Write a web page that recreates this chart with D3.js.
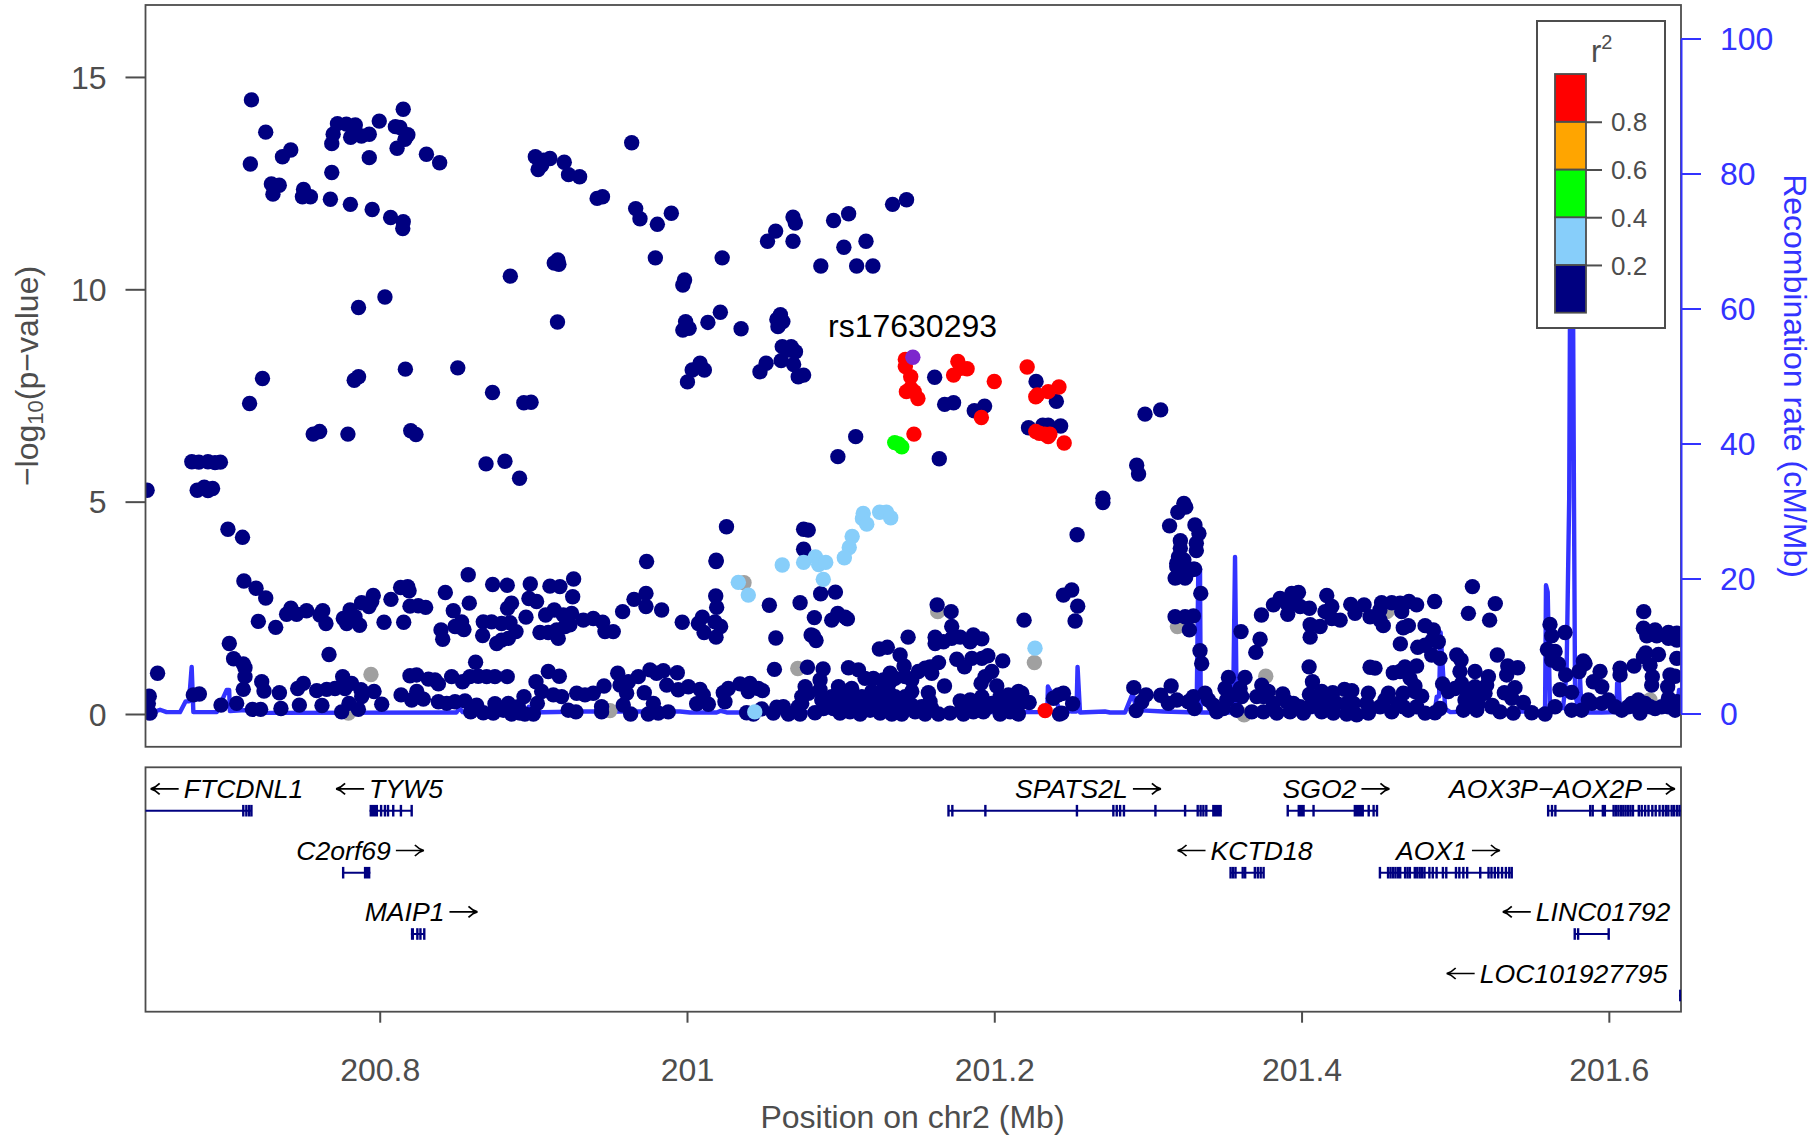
<!DOCTYPE html>
<html><head><meta charset="utf-8">
<script src="https://cdnjs.cloudflare.com/ajax/libs/d3/7.8.5/d3.min.js"></script>
<style>html,body{margin:0;padding:0;background:#fff}svg{display:block}text{font-family:"Liberation Sans",Arial,sans-serif}</style>
</head><body><svg id="c" width="1816" height="1135"></svg>
<script>
const navySnps=[
[200.7165,14.46],[200.7258,13.7],[200.7421,13.28],[200.7367,13.12],[200.7158,12.95],[200.7295,12.48],[200.7346,12.45],[200.7305,12.24],[200.7504,12.35],[200.7549,12.18],[200.7497,12.18],[200.7679,12.12],[200.7809,12.0],[200.7951,11.88],[200.8071,11.69],[200.8153,11.59],[200.815,11.43],[200.7688,12.75],[200.7932,13.1],[200.7688,13.43],[200.7697,13.65],[200.7725,13.9],[200.7783,13.89],[200.7841,13.87],[200.7811,13.58],[200.7881,13.61],[200.7932,13.65],[200.7997,13.96],[200.8153,14.24],[200.8102,13.83],[200.8132,13.81],[200.8183,13.64],[200.8164,13.53],[200.8113,13.32],[200.8304,13.18],[200.839,12.98],
[200.9013,13.12],[200.9066,13.04],[200.9108,13.08],[200.9031,12.82],[200.9054,12.92],[200.9201,12.99],[200.9229,12.7],[200.9301,12.65],[200.9415,12.14],[200.945,12.18],[200.964,13.45],[200.9666,11.9],[200.9694,11.66],[200.9807,11.53],[200.9898,11.79],[200.9794,10.74],[200.9159,10.69],[200.9136,10.62],[200.9166,10.59],[200.885,10.31],[200.9157,9.23],[200.8034,9.82],[200.7862,9.57],[200.9984,10.22],[200.9973,10.1],[200.9991,9.24],[200.9973,9.04],[201.0014,9.08],
[200.7237,7.9],[200.8167,8.12],[200.8508,8.15],[200.7862,7.94],[200.7834,7.86],[200.7153,7.31],[200.8734,7.57],[200.8938,7.33],[200.8985,7.34],[201.0003,7.82],[200.7567,6.59],[200.7609,6.65],[200.7793,6.59],[200.8202,6.67],[200.8236,6.58],[200.6777,5.94],[200.6823,5.93],[200.6882,5.94],[200.6928,5.92],[200.6963,5.93],[200.6812,5.27],[200.6858,5.34],[200.6882,5.26],[200.6912,5.31],[200.6486,5.27],[200.8692,5.89],[200.8815,5.95],[200.891,5.55],[200.7012,4.35],[200.7107,4.16],
[201.0217,9.46],[201.0136,9.22],[201.0352,9.07],[201.0585,9.29],[201.0608,9.4],[201.0624,9.24],[201.0592,9.12],[201.062,8.65],[201.0678,8.65],[201.0706,8.53],[201.0666,8.57],[201.0613,8.32],[201.0694,8.23],[201.0724,7.94],[201.0759,7.98],[201.0515,8.26],[201.0475,8.06],[201.0085,8.26],[201.0113,8.1],[201.0034,8.1],[201.0229,10.74],
[201.0524,11.13],[201.0577,11.37],[201.069,11.7],[201.0705,11.56],[201.069,11.13],[201.0954,11.62],[201.1052,11.78],[201.1021,10.99],[201.1165,11.13],[201.1104,10.55],[201.121,10.55],[201.0871,10.55],[201.1338,12.0],[201.1429,12.11],
[201.0257,4.41],[201.0759,4.35],[201.0789,4.33],[201.0759,3.88],[201.019,3.62],[201.1098,6.53],[201.0982,6.06],[201.1642,6.01],[201.1612,7.93],[201.1677,7.29],[201.1735,7.33],[201.187,7.14],[201.1937,7.25],[201.2272,7.83],[201.2404,7.36],[201.2223,6.74],[201.2316,6.8],[201.2351,6.8],[201.2432,6.78],[201.2981,7.06],[201.3083,7.16],[201.2927,5.86],[201.2939,5.65],[201.2707,5.08],[201.2707,4.98],[201.2539,4.22],[201.3234,4.96],[201.3246,4.87],[201.3195,4.75],[201.3141,4.43],[201.3306,4.45],[201.3332,4.25],[201.3315,4.02],[201.3315,3.85],[201.3211,4.08],[201.3211,3.9],[201.3199,3.7],[201.3188,3.47],[201.3269,3.39],[201.3304,3.41],[201.3188,3.22],[201.3246,3.23],[201.3234,3.63],[201.3177,3.2],[201.3242,3.2],[201.3296,3.41],[201.3188,3.55],[201.3242,3.47],
[200.7116,3.13],[200.7195,2.96],[200.7258,2.73],[200.721,2.18],[200.7323,2.04],[200.7394,2.35],[200.7422,2.49],[200.7459,2.35],[200.7524,2.43],[200.7629,2.43],[200.7611,2.33],[200.765,2.13],[200.7763,2.25],[200.7807,2.45],[200.7785,2.13],[200.7839,2.29],[200.7869,2.09],[200.7882,2.62],[200.793,2.53],[200.7958,2.79],[200.7948,2.65],[200.8028,2.16],[200.8156,2.16],[200.8073,2.70],[200.8136,2.98],[200.8182,3.0],[200.8191,2.9],[200.8197,2.54],[200.8251,2.55],[200.8299,2.51],[200.8427,2.86],[200.8479,2.43],[200.8399,1.98],[200.841,1.76],[200.849,2.06],
[200.6554,.96],[200.7021,1.66],[200.7049,1.3],[200.7112,1.18],[200.7123,1.09],[200.7123,.88],[200.7112,.58],[200.7232,.76],[200.7247,.54],[200.7347,.5],[200.7466,.6],[200.7503,.72],[200.759,.55],[200.7655,.58],[200.7709,.6],[200.7759,.88],[200.7774,.6],[200.7817,.72],[200.7878,.57],[200.7883,.41],[200.7963,.53],[200.8139,.45],[200.8208,.33],[200.8241,.53],[200.8284,.35],[200.8197,.9],[200.824,.92],[200.8317,.82],[200.836,.8],[200.8382,.71],[200.8468,.88],[200.8382,.29],[200.8436,.25],[200.849,.29],[200.767,1.4],
[200.6787,.45],[200.6826,.47],[200.6967,.21],[200.7069,.25],[200.7171,.11],[200.7225,.11],[200.7357,.13],[200.7477,.21],[200.7624,.2],[200.7752,.05],[200.78,.25],[200.7861,.11],[200.8013,.23],[200.6483,.37],[200.6494,.25],[200.6483,.15],[200.6505,.02],[200.65,.42],
[200.8576,3.28],[200.8735,3.05],[200.883,3.03],[200.898,3.06],[200.9108,3.01],[200.9173,3.0],[200.9262,3.18],[200.9737,3.59],[201.0189,3.59],[200.8583,2.61],[200.8533,2.17],[200.8548,1.99],[200.8505,2.06],[200.8674,2.17],[200.8728,2.17],[200.8793,2.13],[200.8848,2.15],[200.8887,1.94],[200.8837,1.78],[200.8793,1.74],[200.8761,1.66],[200.867,1.85],[200.8832,2.49],[200.8858,2.61],[200.8952,2.28],[200.8971,2.72],[200.9021,2.65],[200.908,2.33],[200.9136,2.45],[200.9256,2.76],[200.9043,1.92],[200.9097,1.92],[200.9162,1.78],[200.9152,1.98],[200.9206,2.06],[200.9238,2.1],[200.9195,2.33],[200.9249,2.37],[200.9325,2.21],[200.939,2.25],[200.9451,2.16],[200.9466,1.94],[200.952,1.94],[200.9581,2.41],[200.9655,2.7],[200.9733,2.84],[200.9733,2.53],[200.9835,2.45],[200.9969,2.16],[201.01,2.28],[201.0074,2.13],[201.0111,1.92],[201.0182,2.17],[201.0219,2.06],[201.0189,1.81],[201.0187,2.78],[201.0193,2.51],
[200.8624,1.22],[200.8539,.76],[200.8587,.88],[200.8641,.89],[200.8696,.88],[200.875,.88],[200.883,.88],[200.9097,1.0],[200.9169,.89],[200.9017,.76],[200.8555,.31],[200.8592,.05],[200.8631,.21],[200.8674,.03],[200.8739,.02],[200.875,.24],[200.8837,.25],[200.8858,0],[200.8902,.17],[200.8945,0],[200.8939,.41],[200.9,0],[200.9026,.25],[200.9054,.53],[200.913,.45],[200.9184,.41],[200.9227,.09],[200.9277,.05],[200.9282,.49],[200.9336,.45],[200.939,.49],[200.946,.66],[200.9549,.96],[200.9564,.68],[200.9618,.76],[200.9607,.49],[200.9585,.21],[200.9683,.88],[200.9759,1.04],[200.9802,.96],[200.9846,1.02],[200.9937,.97],[200.9868,.68],[200.9943,.57],[201.0009,.64],[201.0085,.58],[201.0106,.45],[200.9722,.5],[200.9781,.25],[200.9444,.05],[200.9444,.17],[200.9633,0],[200.9748,0],[200.9813,.02],[200.9878,.05],[201.0063,.24],[201.0139,.23],[201.0236,.5],[201.0269,.6],[201.0247,.29],[201.0345,.71],[201.041,.72],[201.0399,.53],[201.0464,.6],[201.0388,.03],[201.0432,0],[200.8804,.09],[200.8913,.02],
[201.0536,2.56],[201.0736,2.62],[201.087,2.83],[201.0966,2.87],[201.0829,2.27],[201.0942,2.21],[201.0981,2.37],[201.1029,2.28],[201.1044,2.24],[201.0578,1.79],[201.0808,1.86],[201.0823,1.84],[201.084,1.73],[201.0569,1.05],[201.0784,1.1],[201.0886,1.06],[201.0866,.8],[201.1051,1.09],[201.1116,1.04],[201.1159,.84],[201.1213,.84],[201.1252,1.53],[201.1304,1.57],[201.1387,1.39],[201.1413,1.13],[201.142,.88],[201.1322,.96],[201.1322,.76],[201.1439,1.81],[201.1615,1.81],[201.1615,1.66],[201.1669,1.7],[201.1723,2.06],[201.1723,1.78],[201.1778,1.81],[201.1843,1.7],[201.1864,1.86],[201.1919,1.77],[201.1628,2.57],[201.1719,2.41],[201.2194,2.21],[201.1756,1.29],[201.1806,1.11],[201.1854,1.31],[201.1919,1.31],[201.1958,1.37],[201.2055,1.25],[201.1984,1.0],[201.194,.88],[201.1914,.72],[201.1637,1.21],[201.1582,1.11],[201.155,1.08],[201.1506,1.0],[201.1593,.96],[201.1676,.66],[201.1463,.8],[201.1463,.53],[201.1571,.5],[201.1582,.29],[201.0769,.64],[201.0747,.41],[201.0866,.57],[201.0986,.64],[201.1072,.6],[201.1029,.45],[201.1007,.25],[201.1083,.33],[201.1203,.53],[201.1278,.6],[201.1311,.53],[201.1354,.41],[201.1268,.33],[201.1398,.25],[201.1778,.31],[201.1843,.33],[201.1919,.41],[201.2016,.66],[201.2038,.41],[201.2092,.45],[201.2157,.53],[201.2179,.49],[201.2227,.27],[201.2114,.25],[201.1984,.25],[201.0491,.55],[201.0486,.12],[201.0562,.02],[201.0584,.16],[201.0627,.17],[201.066,0],[201.0736,0],[201.0725,.17],[201.0833,.03],[201.0888,.13],[201.0953,.13],[201.0996,.02],[201.1061,.05],[201.1127,0],[201.1192,.09],[201.1257,.02],[201.1333,0],[201.1398,0],[201.1485,.05],[201.155,0],[201.1637,0],[201.1712,.02],[201.1799,0],[201.1864,.05],[201.1929,.05],[201.2038,0],[201.2103,.05],[201.2157,0],[201.2424,0],[201.245,2.8],[201.2385,.37],[201.2418,.45],[201.245,.49],
[201.1138,.21],[201.1203,.29],[201.13,.25],[201.1344,.17],[201.142,.41],[201.1463,.21],[201.1528,.17],[201.1593,.13],[201.1138,.41],[201.0747,.25],[201.079,.49],[201.0877,.33],[201.0942,.41],[201.1051,.21],[201.1788,.13],[201.1875,.25],[201.1962,.17],[201.2027,.25],[201.2092,.17],[201.2168,.25],[201.1278,.8],[201.1354,.84],
[201.2504,2.92],[201.2543,2.54],[201.2526,2.19],[201.251,.24],[201.2439,.02],[201.2908,.62],[201.2988,.45],[201.296,.29],[201.2923,.08],[201.3151,.66],[201.3083,.44],[201.3133,.25],[201.3188,.33],[201.3263,.29],[201.3296,.41],[201.3303,.13],[201.3372,.49],[201.3394,.33],[201.3448,.05],[201.3491,.13],[201.3524,.86],[201.3502,.6],[201.3578,.09],[201.36,.6],[201.3632,.86],[201.3611,.41],[201.3556,.45],[201.3606,1.94],[201.373,1.76],[201.3702,1.45],[201.3344,2.84],[201.3177,2.29],[201.3242,2.29],[201.3296,2.31],[201.327,1.98],[201.3339,1.49],[201.335,1.19],[201.3513,.33],[201.3426,.21],[201.3947,.25],[201.399,.17],[201.3752,.41],[201.4229,.25],[201.4294,.25],
[201.3739,2.33],[201.3817,2.57],[201.386,2.72],[201.391,2.35],[201.3904,2.6],[201.3936,2.84],[201.398,2.86],[201.3958,2.6],[201.4051,2.49],[201.3991,2.53],[201.4164,2.79],[201.4153,2.41],[201.4197,2.53],[201.432,2.58],[201.4407,2.57],[201.4446,2.29],[201.4251,2.21],[201.4197,2.25],[201.4121,2.06],[201.4056,2.1],[201.4056,1.81],[201.4348,2.37],[201.4049,1.11],[201.4446,1.1],[201.4071,.76],[201.4051,.46],[201.3741,.68],[201.3784,.53],[201.3708,.41],[201.3878,.47],[201.3904,.29],[201.4131,.53],[201.4203,.5],[201.4279,.58],[201.4327,.55],[201.4435,.49],[201.4099,.33],[201.4164,.29],[201.3676,.05],[201.3752,.05],[201.3839,.02],[201.3925,.05],[201.4012,.02],[201.4131,.05],[201.4207,.02],[201.4294,0],[201.4359,-.02],[201.4435,.02],[201.4338,.25],[201.4424,.25],[201.3817,.25],[201.4056,.17],
[201.4521,2.62],[201.451,2.45],[201.4587,2.62],[201.4641,2.61],[201.4652,2.41],[201.4699,2.65],[201.4749,2.57],[201.4866,2.65],[201.5112,3.0],[201.5261,2.6],[201.5086,2.37],[201.5224,2.21],[201.4511,2.21],[201.4532,2.08],[201.4662,2.03],[201.4695,2.08],[201.4804,2.08],[201.4858,1.98],[201.4643,1.65],[201.4756,1.57],[201.4804,1.62],[201.4851,1.74],[201.489,1.7],[201.4847,1.39],[201.4901,1.31],[201.501,1.39],[201.5038,1.27],[201.5274,1.39],[201.5342,1.13],[201.5407,1.09],[201.5335,.92],[201.4597,.97],[201.4641,1.0],[201.4673,1.11],[201.4749,1.13],[201.4706,.84],[201.4738,.66],[201.4478,1.08],[201.4918,.71],[201.5031,1.0],[201.5129,1.0],[201.5216,.88],[201.5205,.68],[201.5129,.64],[201.5042,.72],[201.4999,.6],[201.5075,.53],[201.5151,.49],[201.5151,.25],[201.4565,.49],[201.4662,.49],[201.4738,.53],[201.4782,.42],[201.5389,.62],[201.532,.5],[201.5368,.37],[201.5444,.27],[201.5242,.2],[201.4695,.09],[201.463,.25],[201.4543,.33],[201.4955,.53],[201.5064,.33],[201.5107,.25],[201.5194,.49],
[201.5617,2.11],[201.5628,1.84],[201.5715,1.92],[201.56,1.52],[201.565,1.47],[201.5628,1.27],[201.5672,1.18],[201.5719,.92],[201.5834,1.25],[201.5806,1.0],[201.5845,1.19],[201.5943,1.0],[201.5899,.76],[201.5954,.64],[201.6073,1.08],[201.6073,.92],[201.6164,1.13],[201.6227,2.41],[201.6225,2.02],[201.6247,1.84],[201.6301,1.98],[201.6312,1.84],[201.6388,1.92],[201.6388,1.78],[201.6442,1.9],[201.6442,1.74],[201.624,1.44],[201.6225,1.35],[201.6323,1.4],[201.6268,1.15],[201.6283,.88],[201.6279,.68],[201.6442,1.31],[201.6398,.92],[201.6431,.89],[201.6383,.64],[201.5682,.57],[201.5758,.51],[201.565,.17],[201.5585,0],[201.5498,.03],[201.5758,.09],[201.5823,.09],[201.5889,.25],[201.5954,.25],[201.5997,.33],[201.6084,.09],[201.6149,.25],[201.6192,.33],[201.6203,.02],[201.6268,.17],[201.6344,.17],[201.6388,.37],[201.6442,.29],[201.6431,.09],[201.4511,.17],[201.4587,.05],[201.4662,.17],[201.4749,.17],[201.4804,.02],[201.4868,.03],[201.4901,.13],[201.5053,.09],[201.514,.09],[201.5238,.17],[201.5292,.05],[201.5378,.02],[201.5867,.33],[201.604,.17],[201.6127,.17],[201.6236,.25],[201.6301,.13],[201.6388,.17]
];
const graySnps=[[200.7943,.93],[200.7796,.02],[200.9499,.08],[201.0371,3.09],[201.0721,1.07],[201.1632,2.41],[201.2261,1.21],[201.3192,2.06],[201.3767,.89],[201.3626,-.02],[201.6268,.33],[201.4555,2.41]];
const blueSnps=[[201.1147,4.72],[201.1142,4.6],[201.117,4.47],[201.1254,4.75],[201.1298,4.75],[201.1326,4.62],[201.1075,4.18],[201.1056,3.92],[201.1024,3.68],[201.062,3.51],[201.0759,3.57],[201.0836,3.7],[201.0857,3.52],[201.0903,3.57],[201.0887,3.17],[201.0334,3.1],[201.0399,2.8],[201.0441,.05],[201.2265,1.55]];
const greenSnps=[[201.1352,6.39],[201.1377,6.36],[201.1398,6.29]];
const redSnps=[[201.1421,8.35],[201.1421,8.18],[201.1456,7.94],[201.1428,7.59],[201.1456,7.67],[201.1479,7.59],[201.1503,7.43],[201.1763,8.3],[201.1823,8.13],[201.1782,8.14],[201.1735,7.98],[201.2,7.83],[201.1916,6.98],[201.2214,8.17],[201.2421,7.7],[201.2351,7.59],[201.2281,7.51],[201.227,7.47],[201.227,6.65],[201.2293,6.61],[201.2328,6.59],[201.2362,6.59],[201.2351,6.53],[201.2455,6.38],[201.1477,6.59],[201.2331,.08]];
const leadSnp=[[201.147,8.4]];
const leadName="rs17630293";
const recombPos=[200.6476,200.652,200.657,200.6613,200.67,200.6737,200.6759,200.6776,200.6787,200.6939,200.7004,200.702,200.7025,200.7123,200.7264,200.8457,200.85,200.8518,200.854,200.8965,200.897,200.8975,200.9314,200.9954,201.002,201.0193,201.022,201.0258,201.222,201.2317,201.2345,201.2349,201.2428,201.2505,201.2535,201.2542,201.2558,201.272,201.2753,201.2851,201.2901,201.2927,201.31,201.3317,201.3328,201.3339,201.3344,201.3554,201.3567,201.3578,201.4868,201.488,201.4895,201.4905,201.4935,201.4968,201.5096,201.5187,201.524,201.5433,201.5563,201.5585,201.5591,201.5602,201.5617,201.5702,201.5725,201.5742,201.5752,201.5762,201.5773,201.578,201.5805,201.5812,201.5823,201.5953,201.605,201.6054,201.6065,201.6072,201.6442,201.6457,201.647];
const recombRate=[.2,.15,.55,.2,.2,1.8,1.8,6.9,.2,.2,3.5,3.5,.35,.5,.1,.15,.15,.85,.2,.15,1,.15,.3,.3,.15,.15,.4,.15,.2,.2,.4,4,.6,.3,.3,6.9,.15,.3,.15,.15,3,.5,.3,.15,21.5,21.5,.15,.15,23.2,.15,.4,2.5,2.5,12,.7,.2,.3,1.3,.3,.3,.3,1,19,18,.8,.8,6,32,85,85,32,3,.3,5.5,.15,.15,.2,4.5,4.5,.3,.4,3.5,1.5];
const geneNames=["FTCDNL1","TYW5","C2orf69","MAIP1","SPATS2L","SGO2","AOX3P\u2212AOX2P","KCTD18","AOX1","LINC01792","LOC101927795"];
const geneStrand=[-1,-1,1,1,1,1,1,-1,1,-1,-1];
const geneRow=[0,0,1,2,0,0,0,1,1,2,3];
const geneLabelPos=[200.7006,200.8064,200.7872,200.8269,201.261,201.4224,201.5695,201.3632,201.4953,201.5855,201.5663];
const geneStart=[200.6,200.7934,200.7762,200.8203,201.1702,201.391,201.5605,201.3538,201.451,201.5778,201.6457];
const geneEnd=[200.7165,200.8208,200.7939,200.829,201.3481,201.4491,201.7,201.3753,201.5368,201.5999,201.7];
const geneExons=[
[200.7112,200.7132,200.715,200.7165],
[[200.7934,200.7989],200.8009,200.8034,200.8054,200.8088,200.8138,200.8208],
[200.7762,[200.7897,200.7939]],
[[200.8203,200.8223],200.8245,200.8265,200.829],
[201.1702,201.1727,201.1942,201.2538,201.2775,201.2797,201.2819,201.2844,[201.3041,201.3055],201.3242,201.3324,201.3343,201.3361,201.338,[201.3418,201.3481]],
[201.391,[201.3974,201.4021],201.4078,[201.4339,201.4406],201.4437,201.4469,201.4491],
[201.5605,201.563,201.5652,201.5879,201.5895,201.5961,201.5974,201.6031,201.6046,201.6062,201.6078,201.6094,201.6109,201.6125,201.6141,201.6157,201.6195,201.6214,201.6236,201.6258,201.6283,201.6305,201.633,201.6352,201.6371,201.6387,201.6409,201.6425,201.6444,201.646],
[201.3538,201.3554,201.357,201.3617,201.3633,201.3696,201.3715,201.3734,201.3753],
[201.451,201.4563,201.4579,201.4595,201.4611,201.4627,201.4642,201.4674,201.469,201.4705,201.4737,201.4753,201.4769,201.4784,201.48,201.4832,201.4854,201.4879,201.492,201.4942,201.5005,201.5027,201.5053,201.5078,201.5163,201.5217,201.5236,201.5258,201.528,201.5305,201.533,201.5352,201.5368],
[201.5778,201.58,201.5999],
[[201.6457,201.7]]
];
const xTicks=[200.8,201,201.2,201.4,201.6];
const yTicks=[0,5,10,15];
const y2Ticks=[0,20,40,60,80,100];
const legendBreaks=[0,0.2,0.4,0.6,0.8,1];
const legendTicks=[0.2,0.4,0.6,0.8];
const legendColors=["#000080","#87CEFA","#00FF00","#FFA500","#FF0000"];

const G="#4d4d4d",B="#3333ff",TF=32;
const L=145.5,R=1681,T=5,Bm=746.8,GT=767.3,GB=1011.7;
const x=d3.scaleLinear().domain([201+(L-687)/1536.4,201+(R-687)/1536.4]).range([L,R]);
const y=d3.scaleLinear().domain([(714-Bm)/42.47,(714-T)/42.47]).range([Bm,T]);
const y2=d3.scaleLinear().domain([0,100]).range([713.5,38.5]);
const svg=d3.select("#c");
svg.append("defs").append("clipPath").attr("id","p").append("rect").attr("x",L).attr("y",T).attr("width",R-L).attr("height",Bm-T);
svg.select("defs").append("clipPath").attr("id","g").append("rect").attr("x",L).attr("y",GT).attr("width",R-L).attr("height",GB-GT);

const plot=svg.append("g").attr("clip-path","url(#p)");
const line=d3.line().x((d,i)=>x(recombPos[i])).y(d=>y2(d));
plot.append("path").datum(recombRate).attr("d",line).attr("fill","none").attr("stroke",B).attr("stroke-width",4.4).attr("stroke-linejoin","round");
function dots(data,col){plot.append("g").selectAll("circle").data(data).join("circle").attr("cx",d=>x(d[0])).attr("cy",d=>y(d[1])).attr("r",7.7).attr("fill",col);}
dots(graySnps,"#a0a0a0");dots(navySnps,"#000080");dots(blueSnps,"#87CEFA");dots(greenSnps,"#00FF00");dots(redSnps,"#FF0000");dots(leadSnp,"#7D26CD");

svg.append("rect").attr("x",L).attr("y",T).attr("width",R-L).attr("height",Bm-T).attr("fill","none").attr("stroke",G).attr("stroke-width",1.8);
function styl(g,col,size,dy){g.select(".domain").attr("stroke",col).attr("stroke-width",2);g.selectAll(".tick line").attr("stroke",col).attr("stroke-width",2);const t=g.selectAll(".tick text").attr("fill",col).attr("font-size",size||TF).attr("font-family",'"Liberation Sans"');if(dy)t.attr("dy",dy);}
const ga=svg.append("g").attr("transform",`translate(${L},0)`).call(d3.axisLeft(y).tickValues(yTicks).tickSize(20).tickPadding(19).tickFormat(d3.format("d")));
styl(ga,G,TF,"0.35em");ga.select(".domain").remove();
const gr=svg.append("g").attr("transform",`translate(${R},0)`).call(d3.axisRight(y2).tickValues(y2Ticks).tickSize(20).tickSizeOuter(0).tickPadding(19).tickFormat(d3.format("d")));
styl(gr,B,TF,"0.34em");
const gx=svg.append("g").attr("transform",`translate(0,${GB})`).call(d3.axisBottom(x).tickValues(xTicks).tickSize(11).tickPadding(36).tickFormat(d=>String(d)));
styl(gx,G);gx.select(".domain").remove();

// legend
const lx=d3.scaleLinear().domain([0,1]).range([312.7,74]);
const lg=svg.append("g");
lg.append("rect").attr("x",1537).attr("y",21).attr("width",128).attr("height",307).attr("fill","#fff").attr("stroke",G).attr("stroke-width",2);
legendColors.forEach((c,i)=>lg.append("rect").attr("x",1555).attr("width",31).attr("y",lx(legendBreaks[i+1])).attr("height",lx(legendBreaks[i])-lx(legendBreaks[i+1])).attr("fill",c).attr("stroke",G).attr("stroke-width",1.8));
const la=lg.append("g").attr("transform","translate(1586,0)").call(d3.axisRight(lx).tickValues(legendTicks).tickSize(16).tickSizeOuter(0).tickPadding(9).tickFormat(d3.format(".1f")));
styl(la,G,26,"0.35em");la.select(".domain").remove();
const lt=lg.append("text").attr("x",1591).attr("y",62).attr("fill",G).attr("font-size",31);
lt.append("tspan").text("r");lt.append("tspan").attr("font-size",20).attr("dy",-13.5).text("2");

// annotation
svg.append("text").attr("x",912.5).attr("y",336.5).attr("text-anchor","middle").attr("font-size",32).attr("fill","#000").text(leadName);

// gene panel
svg.append("rect").attr("x",L).attr("y",GT).attr("width",R-L).attr("height",GB-GT).attr("fill","none").attr("stroke",G).attr("stroke-width",1.8);
const gp=svg.append("g").attr("clip-path","url(#g)");
const rowLine=[810.7,872.7,934,995.5],rowText=[798.3,860,921.3,983];
const arrowLen=28,arrowGap=5;
geneNames.forEach((n,i)=>{
  const ly=rowLine[geneRow[i]];
  gp.append("line").attr("x1",x(geneStart[i])).attr("x2",x(geneEnd[i])).attr("y1",ly).attr("y2",ly).attr("stroke","#000080").attr("stroke-width",2);
  geneExons[i].forEach(e=>{
    const a=Array.isArray(e)?e[0]:e,b=Array.isArray(e)?e[1]:e;
    const w=Math.max(x(b)-x(a),2.4);
    gp.append("rect").attr("x",x(a)-(b===a?1.2:0)).attr("y",ly-5.8).attr("width",w).attr("height",11.6).attr("fill","#000080");
  });
  const ty=rowText[geneRow[i]];
  const t=svg.append("text").attr("y",ty).attr("font-size",26.6).attr("font-style","italic").attr("fill","#000").text(n);
  const w=t.node().getComputedTextLength();
  const left=x(geneLabelPos[i])-(w+arrowLen+arrowGap)/2;
  const s=geneStrand[i];
  const tx=s<0?left+arrowLen+arrowGap:left;
  t.attr("x",tx);
  const ay=ty-9.5;
  const a0=s<0?left+arrowLen:tx+w+arrowGap, a1=s<0?left:a0+arrowLen;
  const h=s<0?9:-9;
  const p=d3.path();
  p.moveTo(a0,ay);p.lineTo(a1,ay);
  p.moveTo(a1+h,ay-5.5);p.quadraticCurveTo(a1+h*0.5,ay-1,a1,ay);p.quadraticCurveTo(a1+h*0.5,ay+1,a1+h,ay+5.5);
  svg.append("path").attr("d",p.toString()).attr("fill","none").attr("stroke","#000").attr("stroke-width",1.7);
});

// titles
svg.append("text").attr("x",912.5).attr("y",1128).attr("text-anchor","middle").attr("font-size",32).attr("fill",G).text("Position on chr2 (Mb)");
const yt=svg.append("text").attr("transform","translate(38,376) rotate(-90)").attr("text-anchor","middle").attr("font-size",32).attr("fill",G);
yt.append("tspan").text("\u2212log");yt.append("tspan").attr("font-size",22).attr("dy",5).text("10");yt.append("tspan").attr("dy",-5).text("(p\u2212value)");
svg.append("text").attr("transform","translate(1784,376) rotate(90)").attr("text-anchor","middle").attr("font-size",32).attr("fill",B).text("Recombination rate (cM/Mb)");
</script></body></html>
